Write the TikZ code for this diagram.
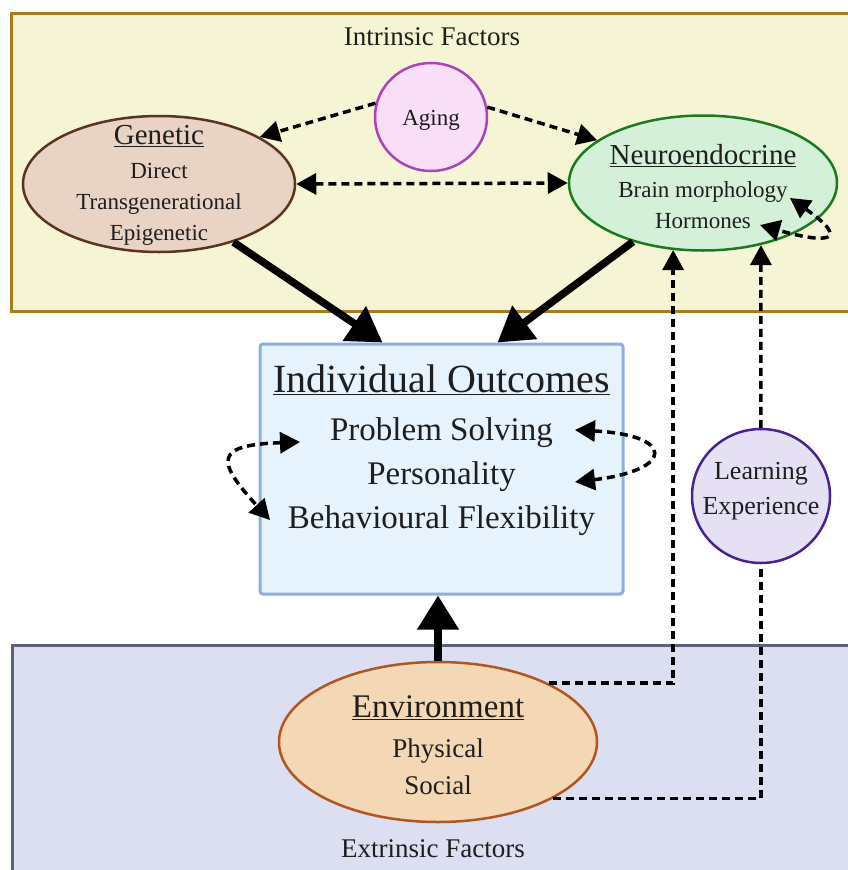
\documentclass[tikz,border=0pt]{standalone}
\usepackage{fontspec}
\setmainfont{Liberation Serif}
\usetikzlibrary{shapes.geometric,arrows.meta}
\definecolor{intrfill}{HTML}{F5F5D5}
\definecolor{intrline}{HTML}{A77C1C}
\definecolor{extrfill}{HTML}{DCDEF1}
\definecolor{extrline}{HTML}{5C6379}
\definecolor{genfill}{HTML}{E9D3C4}
\definecolor{genline}{HTML}{5B3421}
\definecolor{agefill}{HTML}{F8DEF6}
\definecolor{ageline}{HTML}{A845B8}
\definecolor{neurofill}{HTML}{D5F0D9}
\definecolor{neuroline}{HTML}{1C7A1E}
\definecolor{outfill}{HTML}{E7F3FC}
\definecolor{outline}{HTML}{8EADDB}
\definecolor{learnfill}{HTML}{E5E0F4}
\definecolor{learnline}{HTML}{4A2190}
\definecolor{envfill}{HTML}{F4D8B6}
\definecolor{envline}{HTML}{B0561E}
\definecolor{txtgray}{HTML}{1E1E1E}
\def\fsz#1#2{\fontsize{#1}{#2}\selectfont}
\tikzset{
  dtip/.tip={Triangle[length=20pt,width=21pt]},
  btip/.tip={Triangle[length=34pt,width=40pt]},
  blob/.style={ellipse, line width=2.5pt, inner sep=0pt},
  txt/.style={inner sep=0pt, align=center, text=txtgray},
  dashline/.style={line width=3.5pt, dash pattern=on 8pt off 5pt},
  dasharrow/.style={dashline, -dtip},
  dashboth/.style={dashline, dtip-dtip},
  bigarrow/.style={line width=7.5pt, -btip},
}

\begin{document}
\begin{tikzpicture}[x=1pt, y=-1pt]
		%%%%% START %%%%%
		\useasboundingbox (0, 0) rectangle (847, 870);
		
		\draw[line width=3pt, draw=intrline, fill=intrfill] (11, 13) rectangle (880, 311);
		\draw[line width=3pt, draw=extrline, fill=extrfill] (12, 645) rectangle (880, 900);
		
		\node[txt, font=\fsz{27}{27}] (intrlbl) at (432, 36.5) {Intrinsic Factors};
		\node[txt, font=\fsz{27}{27}] (extrlbl) at (433, 848.5) {Extrinsic Factors};
		
		\node[blob, draw=ageline, fill=agefill, minimum width=112pt, minimum height=108pt] (aging) at (431, 117) {};
		\node[txt, font=\fsz{23}{23}] (agingtxt) at (431, 120) {Aging};
		
		\node[blob, draw=genline, fill=genfill, minimum width=272pt, minimum height=136pt] (genetic) at (159, 184) {};
		\node[txt, font=\fsz{23}{31}] (genetictxt) at (159, 185)
			{\fsz{29}{31}\underline{Genetic}\\[3pt] Direct\\ Transgenerational\\ Epigenetic};
		
		\node[blob, draw=neuroline, fill=neurofill, minimum width=268pt, minimum height=135pt] (neuro) at (703, 183) {};
		\node[txt, font=\fsz{23}{31}] (neurotxt) at (703, 187)
			{\fsz{29}{31}\underline{Neuroendocrine}\\[2pt] Brain morphology\\ Hormones};
		
		\node[draw=outline, fill=outfill, line width=3pt, rounded corners=3pt, minimum width=363pt, minimum height=250pt] (outcome) at (441.5, 469) {};
		\node[txt, font=\fsz{33}{44}] (outcometxt) at (441.5, 450.5)
			{\fsz{40}{44}\underline{Individual Outcomes}\\[4pt] Problem Solving\\ Personality\\ Behavioural Flexibility};
		
		\node[blob, draw=learnline, fill=learnfill, minimum width=138pt, minimum height=134pt] (learning) at (761, 496) {};
		\node[txt, font=\fsz{26}{35}] (learningtxt) at (761, 491.5) {Learning\\ Experience};
		
		\node[blob, draw=envline, fill=envfill, minimum width=318pt, minimum height=160pt] (env) at (438, 742) {};
		\node[txt, font=\fsz{27}{37}] (envtxt) at (438, 745.5)
			{\fsz{33}{37}\underline{Environment}\\[3pt] Physical\\ Social};
		
		% solid influences
		\draw[bigarrow] (genetic.-38) -- ([xshift=-59pt]outcome.north);
		\draw[bigarrow] (neuro.220) -- ([xshift=56pt]outcome.north);
		\draw[bigarrow] (env.north) -- (env.north |- outcome.south);
		
		% dashed influences
		\draw[dasharrow] (aging.166) -- (genetic.25);
		\draw[dasharrow] (aging.10) -- (neuro.158);
		\draw[dashboth] (genetic.east) -- (neuro.west);
		\draw[dasharrow] (env.28) -| (neuro.-114);
		\draw[dasharrow] (learning) -- (neuro.-47);
		\draw[dashline] (env.-26) -| (learning.south);
		
		% loops
		\draw[dashboth] ([shift={(87, 15)}]neuro.center) .. controls +(60, 42) and +(70, 20) .. ([shift={(57, 42)}]neuro.center);
		\draw[dashboth] ([shift={(-141.5, -27)}]outcome.center) .. controls +(-85, 3) and +(-55, -60) .. ([shift={(-171.5, 51)}]outcome.center);
		\draw[dashboth] ([shift={(133.5, -39)}]outcome.center) .. controls +(100, 5) and +(100, -12) .. ([shift={(133.5, 13)}]outcome.center);
		
		%%%%% END %%%%%
\end{tikzpicture}
\end{document}
